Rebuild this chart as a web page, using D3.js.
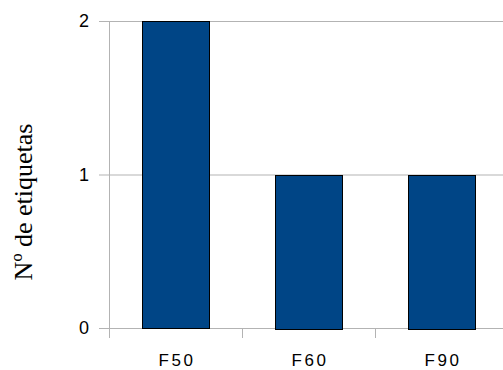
<!DOCTYPE html>
<html><head><meta charset="utf-8">
<script src="https://cdn.jsdelivr.net/npm/d3@7"></script>
<style>body{margin:0;background:#fff}svg{display:block}</style>
</head><body>
<svg id="c" width="503" height="370"></svg>
<script>
const categories = ["F50", "F60", "F90"];
const values = [2, 1, 1];
const yTicks = [0, 1, 2];
const yTitle = "Nº de etiquetas";

const svg = d3.select("#c");
const m = {left: 109, top: 21, right: 508, bottom: 328};
const x = d3.scaleBand().domain(categories).range([m.left, m.right]).paddingInner(0.5).paddingOuter(0.25);
const xb = d3.scaleBand().domain(categories).range([m.left, m.right]);
const y = d3.scaleLinear().domain([0, 2]).range([m.bottom, m.top]);

// gridlines
svg.append("g").selectAll("line").data(yTicks).join("line")
  .attr("x1", m.left - 10).attr("x2", 503)
  .attr("y1", d => y(d) + 0.5).attr("y2", d => y(d) + 0.5)
  .attr("stroke", "#b3b3b3").attr("stroke-width", 1);

// y axis line
svg.append("line").attr("x1", m.left + 0.5).attr("x2", m.left + 0.5)
  .attr("y1", m.top).attr("y2", m.bottom + 10).attr("stroke", "#b3b3b3");

// x ticks
svg.append("g").selectAll("line").data(categories.slice(1)).join("line")
  .attr("x1", d => Math.round(xb(d)) + 0.5).attr("x2", d => Math.round(xb(d)) + 0.5)
  .attr("y1", m.bottom).attr("y2", m.bottom + 10).attr("stroke", "#b3b3b3");

// bars
svg.append("g").selectAll("rect").data(values).join("rect")
  .attr("x", (d, i) => Math.round(x(categories[i])) + 0.5)
  .attr("width", Math.round(x.bandwidth()))
  .attr("y", d => Math.round(y(d)) + 0.5)
  .attr("height", d => Math.round(y(0) - y(d)))
  .attr("fill", "#004586").attr("stroke", "#000").attr("stroke-width", 1);

// y tick labels
svg.append("g").selectAll("text").data(yTicks).join("text")
  .attr("x", 89).attr("y", d => y(d)).attr("dy", "0.36em")
  .attr("text-anchor", "end")
  .style("font-family", "'Liberation Sans', Arial, sans-serif").style("font-size", "18px")
  .text(d => d);

// x labels
svg.append("g").selectAll("text").data(categories).join("text")
  .attr("x", d => xb(d) + xb.bandwidth() / 2 + 1.5).attr("y", 366)
  .attr("text-anchor", "middle")
  .style("font-family", "'Liberation Sans', Arial, sans-serif").style("font-size", "17px")
  .style("letter-spacing", "2.5px")
  .text(d => d);

// y title
svg.append("text")
  .attr("transform", `translate(32,202) rotate(-90)`)
  .attr("text-anchor", "middle")
  .style("font-family", "'Liberation Serif', 'Times New Roman', serif").style("font-size", "26px")
  .text(yTitle);
</script>
</body></html>
